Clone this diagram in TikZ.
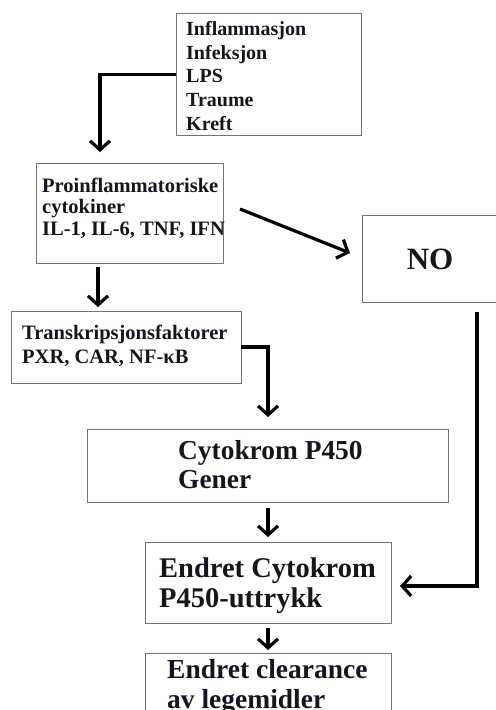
\documentclass[tikz,border=0pt]{standalone}
\usepackage{fontspec}
\setmainfont{Liberation Serif}
\usetikzlibrary{arrows.meta}
\definecolor{txt}{rgb}{0.10,0.07,0.12}
\begin{document}
\begin{tikzpicture}[x=1bp,y=-1bp,
  box/.style={draw=black!55, line width=1bp, inner sep=0pt, outer sep=0pt},
  tl/.style={anchor=base west, inner sep=0pt, text=txt, font=\bfseries\fontsize{#1}{#1}\selectfont},
  arr/.style={line width=3.2bp, draw=black, -{Straight Barb[length=9bp,width=20bp]}}]
\path[use as bounding box, clip] (0,0) rectangle (496,710);
\fill[white] (0,0) rectangle (496,710);
% boxes
\node[box, minimum width=185bp, minimum height=121bp] (b1) at (268.5,74.5) {};
\node[box, minimum width=186bp, minimum height=99bp] (b2) at (130,213.5) {};
\node[box, minimum width=138bp, minimum height=87bp] (no) at (431,258.5) {};
\node[box, minimum width=229bp, minimum height=72bp] (b3) at (126.5,347) {};
\node[box, minimum width=360bp, minimum height=73bp] (b4) at (268,465.5) {};
\node[box, minimum width=246bp, minimum height=81bp] (b5) at (268,582.5) {};
\node[box, minimum width=246bp, minimum height=77bp] (b6) at (268,691.5) {};
% texts
\node[tl=20bp] (t1a) at (186,36) {Inflammasjon};
\node[tl=20bp] (t1b) at (186,59.5) {Infeksjon};
\node[tl=20bp] (t1c) at (186,83) {LPS};
\node[tl=20bp] (t1d) at (186,107) {Traume};
\node[tl=20bp] (t1e) at (186,131) {Kreft};
\node[tl=20.5bp] (t2a) at (42,192) {Proinflammatoriske};
\node[tl=20.5bp] (t2b) at (42,213.5) {cytokiner};
\node[tl=20.5bp] (t2c) at (42,235) {IL-1, IL-6, TNF, IFN};
\node[tl=20.5bp] (t3a) at (22,339) {Transkripsjonsfaktorer};
\node[tl=20.5bp] (t3b) at (22,363) {PXR, CAR, NF-κB};
\node[tl=27.4bp] (t4a) at (178,459) {Cytokrom P450};
\node[tl=27.4bp] (t4b) at (178,488) {Gener};
\node[tl=28.5bp] (t5a) at (159,577) {Endret Cytokrom};
\node[tl=28.5bp] (t5b) at (159,607) {P450-uttrykk};
\node[tl=27.5bp] (t6a) at (167,678) {Endret clearance};
\node[tl=27.5bp] (t6b) at (167,708) {av legemidler};
\node[tl=31bp, anchor=base] (tno) at (430,269) {NO};
% connectors
\coordinate (e1) at (100,152);
\draw[arr] (b1.west) -| (e1);
\coordinate (e2) at (98,307);
\draw[arr] ([yshift=-4bp]b2.south -| e2) -- (e2);
\draw[arr] ([shift={(17bp,4.5bp)}]b2.east) -- ([shift={(-12bp,5.5bp)}]no.west);
\draw[arr] (b3.east) -| ([yshift=12bp]b4.north);
\draw[arr] ([yshift=-6bp]b4.south) -- ([yshift=5bp]b5.north);
\draw[arr] ([yshift=-5bp]b5.south) -- ([yshift=3bp]b6.north);
\coordinate (ns) at (477,312);
\draw[arr] (ns) |- ([shift={(9bp,-3.5bp)}]b5.east);
\end{tikzpicture}
\end{document}
